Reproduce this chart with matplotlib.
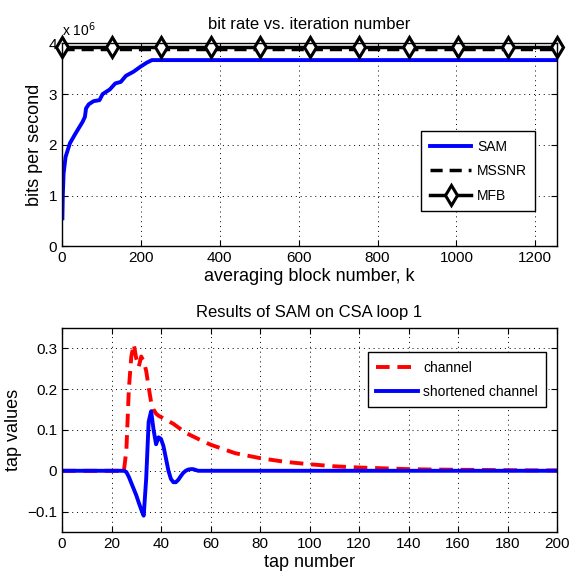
import numpy as np
import matplotlib
matplotlib.use("Agg")
import matplotlib.pyplot as plt

plt.rcParams['font.family'] = ['Liberation Sans', 'DejaVu Sans']

# ---- top panel: bit rate vs averaging block number (values in 1e6 bits/s)
sam_k = [1, 2, 4, 9, 20, 34, 52, 58, 61, 68, 80, 95, 103, 121, 135, 149, 162,
         181, 199, 215, 228, 1255]
sam_rate = [0.55, 1.0, 1.43, 1.76, 2.03, 2.22, 2.45, 2.55, 2.72, 2.8, 2.86, 2.88,
            3.0, 3.09, 3.21, 3.24, 3.36, 3.44, 3.54, 3.62, 3.67, 3.67]
k_end = 1255
mssnr_rate = 3.88
mfb_rate = 3.93
mfb_marks = [0, 125.5, 251, 376.5, 502, 627.5, 753, 878.5, 1004, 1129.5, 1255]

# ---- bottom panel: channel and shortened channel taps
chan_tap = [0, 23, 24, 25, 26, 27, 28, 29, 30, 31, 32, 33, 34, 35, 36, 37, 38, 39,
            42, 45, 50, 55, 60, 70, 80, 90, 100, 110, 120, 130, 140, 150, 160,
            170, 180, 190, 200]
chan_val = [0, 0, -0.005, 0.0, 0.05, 0.2, 0.28, 0.31, 0.275, 0.255, 0.28, 0.268,
            0.245, 0.205, 0.168, 0.15, 0.14, 0.135, 0.125, 0.115, 0.093, 0.078,
            0.064, 0.043, 0.031, 0.022, 0.016, 0.011, 0.008, 0.006, 0.004, 0.003,
            0.0025, 0.002, 0.0015, 0.001, 0.001]
short_tap = [0, 25, 26, 27, 28, 29, 30, 31, 32, 33, 34, 35, 36, 37, 38, 39, 40, 41,
             42, 43, 44, 45, 46, 47, 48, 49, 50, 51, 52, 53, 54, 55, 200]
short_val = [0, 0, -0.003, -0.015, -0.03, -0.045, -0.06, -0.078, -0.095, -0.11,
             -0.02, 0.12, 0.146, 0.1, 0.065, 0.082, 0.078, 0.06, 0.03, 0.0, -0.02,
             -0.028, -0.028, -0.022, -0.013, -0.005, 0.0, 0.003, 0.004, 0.004,
             0.002, 0.0, 0.0]

fig = plt.figure(figsize=(5.71, 5.78), dpi=100)

ax1 = fig.add_axes([0.1086, 0.574, 0.867, 0.351])
ax1.plot(sam_k, sam_rate, color='blue', linewidth=2.8, label='SAM')
ax1.plot([0, k_end], [mssnr_rate, mssnr_rate], color='black', linewidth=2.5,
         linestyle=(0, (3.5, 2)), label='MSSNR')
ax1.plot(mfb_marks, [mfb_rate] * len(mfb_marks), color='black', linewidth=2.5,
         marker='d', markersize=10, markerfacecolor='white',
         markeredgewidth=2.2, label='MFB', clip_on=False)
ax1.set_xlim(0, k_end)
ax1.set_ylim(0, 4)
ax1.set_xticks(range(0, 1201, 200))
ax1.set_yticks(range(0, 5))
ax1.set_title('bit rate vs. iteration number', fontsize=12, pad=10)
ax1.set_xlabel('averaging block number, k', fontsize=13, labelpad=2)
ax1.set_ylabel('bits per second', fontsize=13, labelpad=4)
ax1.text(0.0, 1.02, r'x 10$^6$', transform=ax1.transAxes, fontsize=10,
         ha='left', va='bottom')
ax1.legend(loc='lower right', bbox_to_anchor=(0.97, 0.14), fontsize=10,
           handlelength=3.0, handletextpad=0.4, fancybox=False,
           edgecolor='black', framealpha=1, borderpad=0.6, labelspacing=0.75)

ax2 = fig.add_axes([0.1086, 0.0796, 0.867, 0.353])
ax2.plot(chan_tap, chan_val, color='red', linewidth=2.8,
         linestyle=(0, (3.5, 2)), label='channel')
ax2.plot(short_tap, short_val, color='blue', linewidth=2.8,
         label='shortened channel')
ax2.set_xlim(0, 200)
ax2.set_ylim(-0.15, 0.35)
ax2.set_xticks(range(0, 201, 20))
ax2.set_yticks([-0.1, 0, 0.1, 0.2, 0.3])
ax2.set_yticklabels(['\u22120.1', '0', '0.1', '0.2', '0.3'])
ax2.set_title('Results of SAM on CSA loop 1', fontsize=12, pad=8)
ax2.set_xlabel('tap number', fontsize=13, labelpad=2)
ax2.set_ylabel('tap values', fontsize=13, labelpad=4)
ax2.legend(loc='upper right', bbox_to_anchor=(0.992, 0.915), fontsize=10,
           handlelength=3.0, handletextpad=0.4, fancybox=False,
           edgecolor='black', framealpha=1, borderpad=0.6, labelspacing=0.75)

for ax in (ax1, ax2):
    ax.grid(True, color='black', linestyle=(0, (1, 4)), linewidth=0.7)
    ax.tick_params(direction='in', top=True, right=True, labelsize=11, length=4)
    for s in ax.spines.values():
        s.set_linewidth(1.0)

fig.savefig('out.png', dpi=100)
